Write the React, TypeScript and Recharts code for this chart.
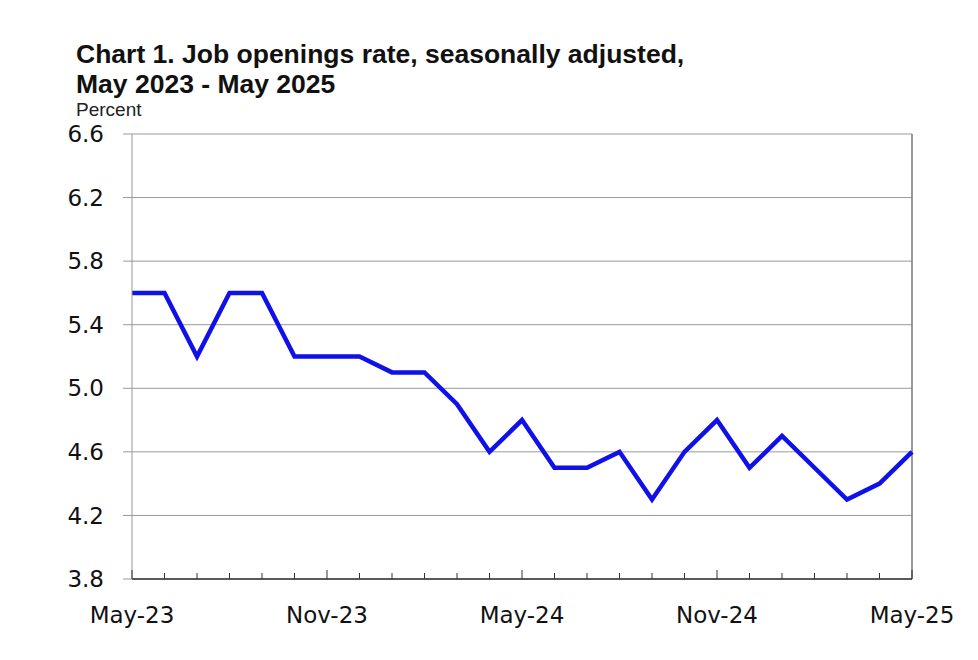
import { LineChart, Line, XAxis, YAxis, CartesianGrid, ReferenceLine } from 'recharts';

const months = [
  'May-23', 'Jun-23', 'Jul-23', 'Aug-23', 'Sep-23', 'Oct-23', 'Nov-23', 'Dec-23',
  'Jan-24', 'Feb-24', 'Mar-24', 'Apr-24', 'May-24', 'Jun-24', 'Jul-24', 'Aug-24',
  'Sep-24', 'Oct-24', 'Nov-24', 'Dec-24', 'Jan-25', 'Feb-25', 'Mar-25', 'Apr-25', 'May-25',
];
const rates = [
  5.6, 5.6, 5.2, 5.6, 5.6, 5.2, 5.2, 5.2, 5.1, 5.1, 4.9, 4.6, 4.8,
  4.5, 4.5, 4.6, 4.3, 4.6, 4.8, 4.5, 4.7, 4.5, 4.3, 4.4, 4.6,
];
const yTicks = [3.8, 4.2, 4.6, 5.0, 5.4, 5.8, 6.2, 6.6];
const labelledMonths = ['May-23', 'Nov-23', 'May-24', 'Nov-24', 'May-25'];

const data = months.map((m, i) => ({ month: m, rate: rates[i] }));

const tickFont = '"DejaVu Sans", sans-serif';

function MonthTick(props: any) {
  const { x, y, payload } = props;
  const major = labelledMonths.includes(payload.value);
  return (
    <g>
      <line x1={x} x2={x} y1={y} y2={y - (major ? 9 : 6)} stroke="#333" strokeWidth={1} />
      {major && (
        <text x={x} y={y + 44} textAnchor="middle" fontSize={23} fontFamily={tickFont} fill="#111">
          {payload.value}
        </text>
      )}
    </g>
  );
}

export default function App() {
  return (
    <div style={{ position: 'relative', width: 970, height: 652, background: '#fff' }}>
      <div
        style={{
          position: 'absolute', left: 68, top: 31, fontFamily: '"Liberation Sans", Arial, sans-serif',
          fontWeight: 'bold', fontSize: 26.5, lineHeight: '30px', color: '#111', whiteSpace: 'nowrap',
        }}
      >
        Chart 1. Job openings rate, seasonally adjusted,
        <br />
        May 2023 - May 2025
      </div>
      <div
        style={{
          position: 'absolute', left: 68, top: 92, fontFamily: '"Liberation Sans", Arial, sans-serif',
          fontSize: 19, lineHeight: '19px', color: '#222',
        }}
      >
        Percent
      </div>
      <LineChart width={970} height={652} data={data} margin={{ top: 126, right: 66, bottom: 0, left: 54 }}>
        <CartesianGrid vertical={false} stroke="#999" strokeWidth={1} />
        <XAxis
          dataKey="month"
          interval={0}
          tickSize={0}
          tickMargin={0}
          tick={<MonthTick />}
          axisLine={{ stroke: '#333', strokeWidth: 1.5 }}
          tickLine={false}
          height={81}
        />
        <YAxis
          width={70}
          domain={[3.8, 6.6]}
          ticks={yTicks}
          tickFormatter={(v: number) => v.toFixed(1)}
          tickSize={9}
          tickMargin={19}
          axisLine={{ stroke: '#999' }}
          tickLine={{ stroke: '#999' }}
          tick={{ fontSize: 23, fontFamily: tickFont, fill: '#111' }}
        />
        <ReferenceLine x="May-25" stroke="#777" strokeWidth={1.5} />
        <Line
          type="linear"
          dataKey="rate"
          stroke="#1010e8"
          strokeWidth={4.5}
          dot={false}
          isAnimationActive={false}
        />
      </LineChart>
    </div>
  );
}
